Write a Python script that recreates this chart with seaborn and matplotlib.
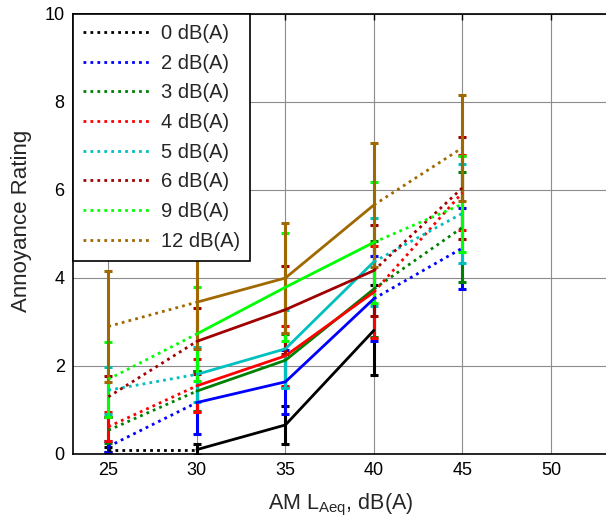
import numpy as np
import pandas as pd
import matplotlib
matplotlib.use("Agg")
import matplotlib.pyplot as plt
from matplotlib.lines import Line2D
import seaborn as sns

# ---- data -------------------------------------------------------------
x_levels = [25, 30, 35, 40, 45]
series_labels = ["0 dB(A)", "2 dB(A)", "3 dB(A)", "4 dB(A)",
                 "5 dB(A)", "6 dB(A)", "9 dB(A)", "12 dB(A)"]
series_colors = ["#000000", "#0000ff", "#008000", "#ff0000",
                 "#00bfbf", "#a00000", "#00ff00", "#a06800"]

mean_0 = [0.10, 0.10, 0.66, 2.81, np.nan]
mean_2 = [0.17, 1.17, 1.64, 3.53, 4.68]
mean_3 = [0.54, 1.43, 2.13, 3.75, 5.15]
mean_4 = [0.62, 1.55, 2.23, 3.68, 5.94]
mean_5 = [1.45, 1.81, 2.39, 4.37, 5.47]
mean_6 = [1.30, 2.56, 3.28, 4.17, 6.05]
mean_9 = [1.70, 2.73, 3.79, 4.81, 5.68]
mean_12 = [2.90, 3.45, 4.00, 5.66, 6.96]

err_0 = [0.05, 0.12, 0.44, 1.02, np.nan]
err_2 = [0.12, 0.72, 0.72, 0.97, 0.92]
err_3 = [0.30, 0.45, 0.60, 1.10, 1.25]
err_4 = [0.33, 0.60, 0.69, 1.04, 0.85]
err_5 = [0.53, 0.62, 0.89, 1.00, 1.13]
err_6 = [0.47, 0.75, 1.00, 1.03, 1.16]
err_9 = [0.85, 1.06, 1.23, 1.38, 1.10]
err_12 = [1.26, 1.06, 1.24, 1.41, 1.21]

means = [mean_0, mean_2, mean_3, mean_4, mean_5, mean_6, mean_9, mean_12]
errs = [err_0, err_2, err_3, err_4, err_5, err_6, err_9, err_12]

x_ticks = [25, 30, 35, 40, 45, 50]
y_ticks = [0, 2, 4, 6, 8, 10]

# ---- style ------------------------------------------------------------
sns.set_style("white")
plt.rcParams["font.family"] = ["Liberation Sans", "DejaVu Sans"]
plt.rcParams["mathtext.fontset"] = "custom"
plt.rcParams["mathtext.rm"] = "Liberation Sans"
plt.rcParams["mathtext.it"] = "Liberation Sans"

fig = plt.figure(figsize=(6.06, 5.20), dpi=100)
ax = fig.add_axes([73 / 606, 1 - 454 / 520, 566.4 / 606, 440 / 520])

dotted = (0, (1, 1.5))
lw = 2.0

for lab, col, m, e in zip(series_labels, series_colors, means, errs):
    df = pd.DataFrame({"x": x_levels, "y": m, "e": e}).dropna()
    # error bars
    ax.errorbar(df["x"], df["y"], yerr=df["e"], fmt="none", ecolor=col,
                elinewidth=2.2, capsize=3.2, capthick=2.2, zorder=2)
    # solid middle segment 30-35-40
    solid = df[df["x"].between(30, 40)]
    sns.lineplot(data=solid, x="x", y="y", color=col, lw=lw, ax=ax,
                 legend=False, estimator=None, sort=False, zorder=3)
    # dotted end segments 25-30 and 40-45
    d1 = df[df["x"].between(25, 30)].assign(seg=0)
    d2 = df[df["x"].between(40, 45)].assign(seg=1)
    dd = pd.concat([d1, d2])
    dd = dd[dd.groupby("seg")["x"].transform("count") > 1]
    sns.lineplot(data=dd, x="x", y="y", units="seg", estimator=None,
                 color=col, lw=lw, linestyle=dotted, ax=ax, legend=False,
                 sort=False, zorder=3)

for ln in ax.lines:
    ln.set_dash_capstyle("butt")

ax.set_xlim(23, 55)
ax.set_ylim(0, 10)
ax.set_xticks(x_ticks)
ax.set_yticks(y_ticks)
ax.grid(True, color="#8c8c8c", lw=0.8)
ax.set_axisbelow(True)
ax.tick_params(direction="in", length=4, width=1, top=True, right=True,
               labelsize=13, colors="black", pad=6)
for s in ax.spines.values():
    s.set_color("black")
    s.set_linewidth(1.2)

ax.set_xlabel(r"AM L$_{\mathregular{Aeq}}$, dB(A)", fontsize=15.5)
ax.set_ylabel("Annoyance Rating", fontsize=16)
ax.xaxis.set_label_coords(0.472, -0.085)
ax.yaxis.set_label_coords(-0.072, 0.53)

handles = [Line2D([], [], color=c, lw=lw, linestyle=dotted,
                  dash_capstyle="butt") for c in series_colors]
leg = ax.legend(handles, series_labels, loc="upper left",
                bbox_to_anchor=(0.0, 1.0), borderaxespad=0.0,
                fontsize=14.5, frameon=True, fancybox=False,
                handlelength=3.4, handletextpad=0.45, labelspacing=0.53,
                borderpad=0.5)
leg.get_frame().set_edgecolor("black")
leg.get_frame().set_linewidth(1.2)
leg.get_frame().set_alpha(1.0)
leg.set_zorder(10)

fig.savefig("out.png", dpi=100)
